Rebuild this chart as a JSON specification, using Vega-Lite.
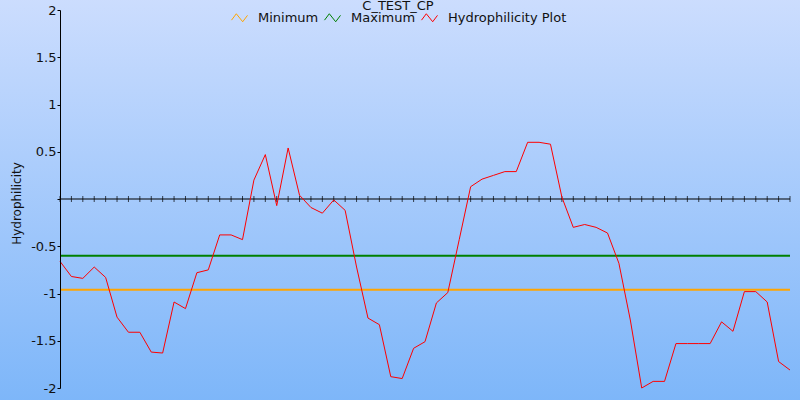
{
  "$schema": "https://vega.github.io/schema/vega-lite/v6.json",
  "width": 730,
  "height": 378,
  "autosize": "none",
  "padding": {"left": 60, "top": 10, "right": 10, "bottom": 12},
  "background": "#a6c9fb",
  "config": {"font": "DejaVu Sans", "view": {"stroke": null}},
  "title": {"text": "C_TEST_CP", "anchor": "middle", "frame": "group", "dx": -27, "dy": 15, "offset": 0, "baseline": "top", "fontSize": 13, "fontWeight": "normal", "color": "#111111", "zindex": 2},
  "datasets": {
    "hydro": [
      {"pos": 0, "value": -0.66, "series": "Hydrophilicity Plot"},
      {"pos": 1, "value": -0.82, "series": "Hydrophilicity Plot"},
      {"pos": 2, "value": -0.84, "series": "Hydrophilicity Plot"},
      {"pos": 3, "value": -0.72, "series": "Hydrophilicity Plot"},
      {"pos": 4, "value": -0.83, "series": "Hydrophilicity Plot"},
      {"pos": 5, "value": -1.25, "series": "Hydrophilicity Plot"},
      {"pos": 6, "value": -1.41, "series": "Hydrophilicity Plot"},
      {"pos": 7, "value": -1.41, "series": "Hydrophilicity Plot"},
      {"pos": 8, "value": -1.62, "series": "Hydrophilicity Plot"},
      {"pos": 9, "value": -1.63, "series": "Hydrophilicity Plot"},
      {"pos": 10, "value": -1.09, "series": "Hydrophilicity Plot"},
      {"pos": 11, "value": -1.16, "series": "Hydrophilicity Plot"},
      {"pos": 12, "value": -0.78, "series": "Hydrophilicity Plot"},
      {"pos": 13, "value": -0.75, "series": "Hydrophilicity Plot"},
      {"pos": 14, "value": -0.38, "series": "Hydrophilicity Plot"},
      {"pos": 15, "value": -0.38, "series": "Hydrophilicity Plot"},
      {"pos": 16, "value": -0.43, "series": "Hydrophilicity Plot"},
      {"pos": 17, "value": 0.20, "series": "Hydrophilicity Plot"},
      {"pos": 18, "value": 0.47, "series": "Hydrophilicity Plot"},
      {"pos": 19, "value": -0.07, "series": "Hydrophilicity Plot"},
      {"pos": 20, "value": 0.54, "series": "Hydrophilicity Plot"},
      {"pos": 21, "value": 0.04, "series": "Hydrophilicity Plot"},
      {"pos": 22, "value": -0.09, "series": "Hydrophilicity Plot"},
      {"pos": 23, "value": -0.15, "series": "Hydrophilicity Plot"},
      {"pos": 24, "value": -0.01, "series": "Hydrophilicity Plot"},
      {"pos": 25, "value": -0.12, "series": "Hydrophilicity Plot"},
      {"pos": 26, "value": -0.72, "series": "Hydrophilicity Plot"},
      {"pos": 27, "value": -1.26, "series": "Hydrophilicity Plot"},
      {"pos": 28, "value": -1.33, "series": "Hydrophilicity Plot"},
      {"pos": 29, "value": -1.88, "series": "Hydrophilicity Plot"},
      {"pos": 30, "value": -1.90, "series": "Hydrophilicity Plot"},
      {"pos": 31, "value": -1.58, "series": "Hydrophilicity Plot"},
      {"pos": 32, "value": -1.51, "series": "Hydrophilicity Plot"},
      {"pos": 33, "value": -1.10, "series": "Hydrophilicity Plot"},
      {"pos": 34, "value": -0.99, "series": "Hydrophilicity Plot"},
      {"pos": 35, "value": -0.43, "series": "Hydrophilicity Plot"},
      {"pos": 36, "value": 0.13, "series": "Hydrophilicity Plot"},
      {"pos": 37, "value": 0.21, "series": "Hydrophilicity Plot"},
      {"pos": 38, "value": 0.25, "series": "Hydrophilicity Plot"},
      {"pos": 39, "value": 0.29, "series": "Hydrophilicity Plot"},
      {"pos": 40, "value": 0.29, "series": "Hydrophilicity Plot"},
      {"pos": 41, "value": 0.60, "series": "Hydrophilicity Plot"},
      {"pos": 42, "value": 0.60, "series": "Hydrophilicity Plot"},
      {"pos": 43, "value": 0.58, "series": "Hydrophilicity Plot"},
      {"pos": 44, "value": 0.02, "series": "Hydrophilicity Plot"},
      {"pos": 45, "value": -0.30, "series": "Hydrophilicity Plot"},
      {"pos": 46, "value": -0.27, "series": "Hydrophilicity Plot"},
      {"pos": 47, "value": -0.30, "series": "Hydrophilicity Plot"},
      {"pos": 48, "value": -0.36, "series": "Hydrophilicity Plot"},
      {"pos": 49, "value": -0.68, "series": "Hydrophilicity Plot"},
      {"pos": 50, "value": -1.28, "series": "Hydrophilicity Plot"},
      {"pos": 51, "value": -2.00, "series": "Hydrophilicity Plot"},
      {"pos": 52, "value": -1.93, "series": "Hydrophilicity Plot"},
      {"pos": 53, "value": -1.93, "series": "Hydrophilicity Plot"},
      {"pos": 54, "value": -1.53, "series": "Hydrophilicity Plot"},
      {"pos": 55, "value": -1.53, "series": "Hydrophilicity Plot"},
      {"pos": 56, "value": -1.53, "series": "Hydrophilicity Plot"},
      {"pos": 57, "value": -1.53, "series": "Hydrophilicity Plot"},
      {"pos": 58, "value": -1.30, "series": "Hydrophilicity Plot"},
      {"pos": 59, "value": -1.40, "series": "Hydrophilicity Plot"},
      {"pos": 60, "value": -0.98, "series": "Hydrophilicity Plot"},
      {"pos": 61, "value": -0.98, "series": "Hydrophilicity Plot"},
      {"pos": 62, "value": -1.09, "series": "Hydrophilicity Plot"},
      {"pos": 63, "value": -1.72, "series": "Hydrophilicity Plot"},
      {"pos": 64, "value": -1.81, "series": "Hydrophilicity Plot"}
    ],
    "limits": [
      {"pos": 0, "value": -0.96, "series": "Minimum"},
      {"pos": 64, "value": -0.96, "series": "Minimum"},
      {"pos": 0, "value": -0.60, "series": "Maximum"},
      {"pos": 64, "value": -0.60, "series": "Maximum"}
    ]
  },
  "layer": [
    {
      "data": {"values": [{}]},
      "mark": {"type": "rect", "clip": false, "zindex": 0, "fill": {"gradient": "linear", "x1": 0, "y1": 0, "x2": 0, "y2": 1, "stops": [{"offset": 0, "color": "#ccddfe"}, {"offset": 1, "color": "#7db6f9"}]}},
      "encoding": {
        "x": {"datum": -5.4, "type": "quantitative", "scale": {"domain": [0, 64], "nice": false, "zero": false}, "axis": null},
        "x2": {"datum": 65},
        "y": {"datum": 2.13, "type": "quantitative", "scale": {"domain": [-2, 2], "nice": false, "zero": false}},
        "y2": {"datum": -2.15}
      }
    },
    {
      "data": {"name": "limits"},
      "mark": {"type": "line", "strokeWidth": 2},
      "encoding": {
        "x": {"field": "pos", "type": "quantitative", "scale": {"domain": [0, 64], "nice": false, "zero": false}, "axis": null},
        "y": {"field": "value", "type": "quantitative", "scale": {"domain": [-2, 2], "nice": false, "zero": false},
          "axis": {"zindex": 1, "values": [-2, -1.5, -1, -0.5, 0, 0.5, 1, 1.5, 2], "labelExpr": "datum.value == 0 ? '' : toString(datum.value)", "grid": false, "domainColor": "#000000", "tickColor": "#000000", "tickSize": 3, "labelPadding": 1, "labelFontSize": 13, "labelColor": "#111111", "labelFlush": false, "title": "Hydrophilicity", "titleFontSize": 12, "titleFontWeight": "normal", "titleColor": "#111111", "titleX": -44, "titleY": 193, "titleAngle": -90, "titleBaseline": "middle", "titleAlign": "center"}},
        "color": {"field": "series", "type": "nominal",
          "scale": {"domain": ["Minimum", "Maximum", "Hydrophilicity Plot"], "range": ["#ffa500", "#008000", "#ff0000"]},
          "legend": {"zindex": 1, "orient": "none", "legendX": 171, "legendY": -1, "direction": "horizontal", "title": null, "symbolType": "M-1,0.3L-0.4,-0.5L0.4,0.5L1,-0.3", "symbolSize": 256, "symbolStrokeWidth": 1, "symbolFillColor": "transparent", "labelFontSize": 13, "labelColor": "#111111", "labelOffset": 10, "columnPadding": 3, "padding": 0}}
      }
    },
    {
      "data": {"values": [{}]},
      "mark": {"type": "rule", "color": "#000000", "strokeWidth": 1.2},
      "encoding": {
        "x": {"datum": 0, "type": "quantitative"},
        "x2": {"datum": 64},
        "y": {"datum": 0, "type": "quantitative"}
      }
    },
    {
      "data": {"name": "hydro"},
      "mark": {"type": "tick", "orient": "vertical", "color": "#000000", "size": 6, "thickness": 1},
      "encoding": {
        "x": {"field": "pos", "type": "quantitative"},
        "y": {"datum": 0, "type": "quantitative"}
      }
    },
    {
      "data": {"name": "hydro"},
      "mark": {"type": "line", "strokeWidth": 1},
      "encoding": {
        "x": {"field": "pos", "type": "quantitative"},
        "y": {"field": "value", "type": "quantitative"},
        "color": {"field": "series", "type": "nominal"}
      }
    }
  ]
}
